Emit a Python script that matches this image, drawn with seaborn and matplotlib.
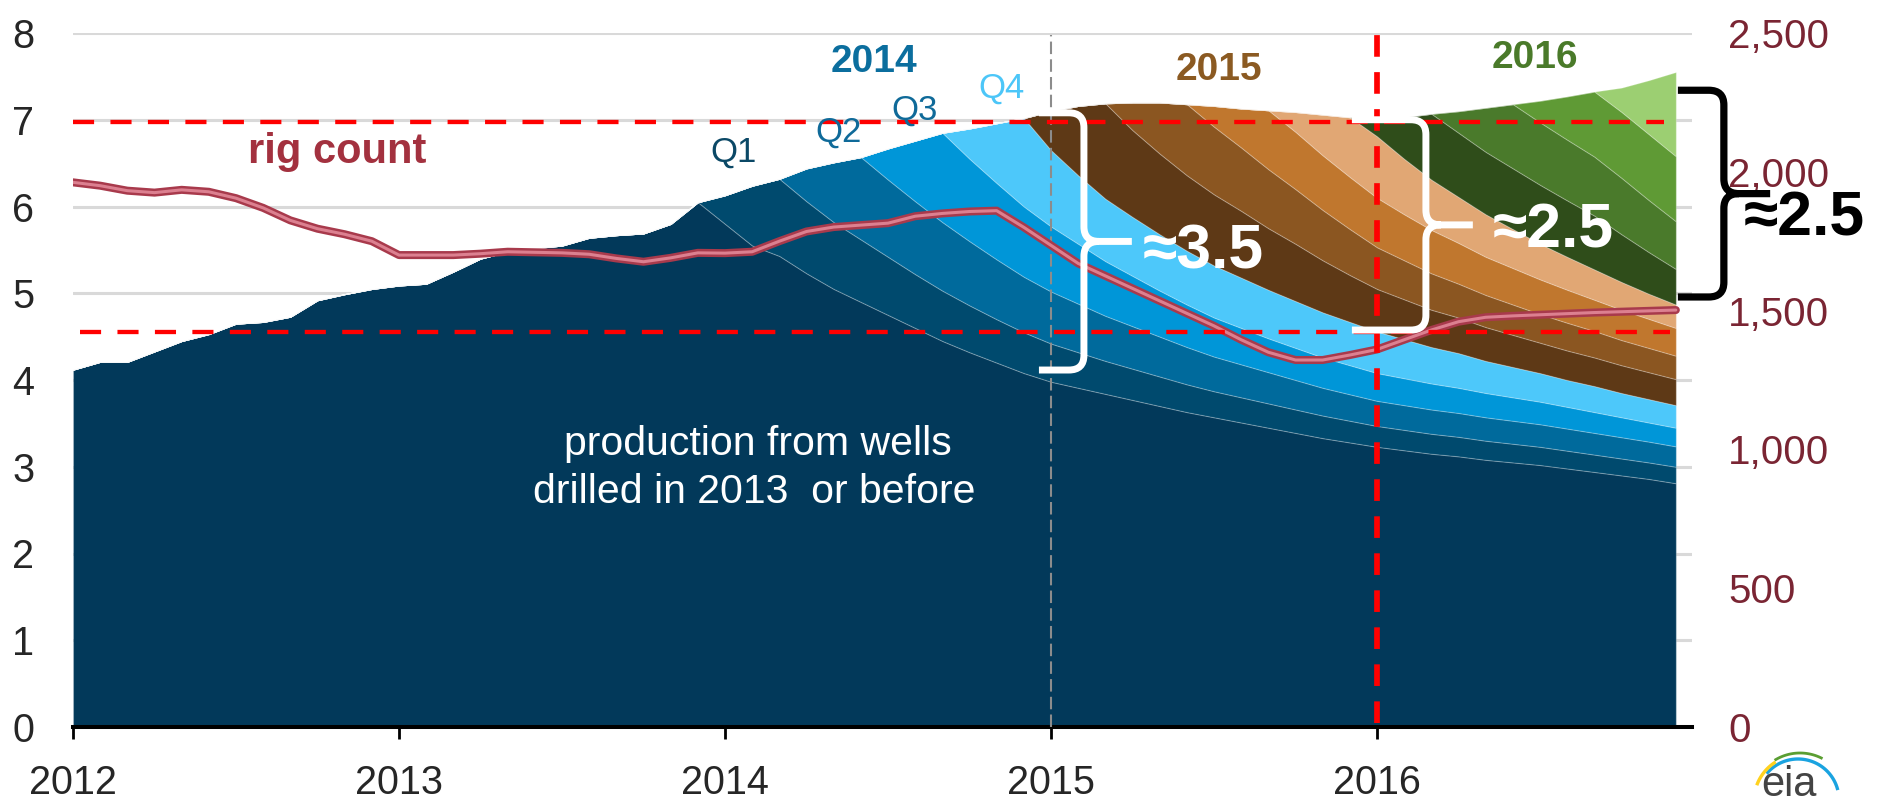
import numpy as np
import pandas as pd
import matplotlib
matplotlib.use("Agg")
import matplotlib.pyplot as plt
import seaborn as sns
from matplotlib.path import Path
from matplotlib.patches import PathPatch

# ---------------- data ----------------
months = pd.date_range("2012-01-01", periods=60, freq="MS")

# production from wells drilled in 2013 or before (million b/d)
base = [4.12, 4.21, 4.21, 4.33, 4.45, 4.53, 4.65, 4.67, 4.73, 4.92, 4.99, 5.05,
        5.09, 5.11, 5.25, 5.40, 5.48, 5.52, 5.55, 5.64, 5.67, 5.69, 5.80, 6.05,
        5.80, 5.55, 5.43, 5.23, 5.05, 4.90, 4.75, 4.60, 4.45, 4.32, 4.20, 4.08,
        3.98, 3.91, 3.84, 3.77, 3.70, 3.63, 3.57, 3.51, 3.45, 3.39, 3.33, 3.28,
        3.23, 3.19, 3.15, 3.12, 3.08, 3.05, 3.02, 2.98, 2.94, 2.90, 2.86, 2.81]

# quarterly well vintages, values from their first producing month
q2014_1 = [0.33, 0.69, 0.89, 0.83, 0.77, 0.72, 0.67, 0.62, 0.58, 0.54, 0.50, 0.47,
           0.44, 0.41, 0.38, 0.36, 0.34, 0.32, 0.30, 0.29, 0.28, 0.27, 0.26, 0.25,
           0.24, 0.235, 0.23, 0.225, 0.22, 0.215, 0.21, 0.205, 0.20, 0.195, 0.19, 0.19]
q2014_2 = [0.38, 0.69, 0.95, 0.89, 0.84, 0.79, 0.74, 0.69, 0.64,
           0.60, 0.56, 0.52, 0.49, 0.46, 0.43, 0.40, 0.38, 0.36, 0.34, 0.32, 0.305,
           0.29, 0.285, 0.28, 0.275, 0.27, 0.265, 0.26, 0.255, 0.25, 0.245, 0.24, 0.235]
q2014_3 = [0.36, 0.70, 1.03, 0.95, 0.88, 0.81,
           0.75, 0.69, 0.63, 0.58, 0.53, 0.49, 0.45, 0.42, 0.39, 0.37, 0.35, 0.335,
           0.32, 0.31, 0.30, 0.29, 0.28, 0.27, 0.26, 0.25, 0.24, 0.23, 0.22, 0.215]
q2014_4 = [0.35, 0.69, 1.02,
           0.88, 0.79, 0.72, 0.68, 0.65, 0.62, 0.60, 0.58, 0.56, 0.54, 0.52, 0.50,
           0.48, 0.45, 0.42, 0.40, 0.37, 0.35, 0.33, 0.31, 0.30, 0.28, 0.27, 0.26]
q2015_1 = [0.45, 0.80, 1.10, 1.00, 0.93, 0.87, 0.82, 0.77, 0.71, 0.66, 0.60, 0.54,
           0.49, 0.46, 0.43, 0.41, 0.39, 0.37, 0.35, 0.34, 0.33, 0.32, 0.31, 0.30]
q2015_2 = [0.32, 0.59, 0.82, 0.78, 0.73, 0.68, 0.63, 0.58, 0.53,
           0.48, 0.45, 0.42, 0.39, 0.37, 0.35, 0.33, 0.32, 0.305, 0.29, 0.28, 0.27]
q2015_3 = [0.24, 0.45, 0.68, 0.66, 0.63, 0.60,
           0.57, 0.53, 0.50, 0.47, 0.44, 0.42, 0.40, 0.38, 0.36, 0.35, 0.335, 0.32]
q2015_4 = [0.23, 0.47, 0.69,
           0.71, 0.64, 0.58, 0.53, 0.49, 0.45, 0.41, 0.38, 0.35, 0.32, 0.29, 0.27]
q2016_1 = [0.20, 0.48, 0.76, 0.74, 0.72, 0.70, 0.68, 0.65, 0.62, 0.55, 0.48, 0.41]
q2016_2 = [0.25, 0.51, 0.74, 0.72, 0.70, 0.68, 0.65, 0.60, 0.55]
q2016_3 = [0.25, 0.50, 0.75, 0.76, 0.76, 0.75]
q2016_4 = [0.28, 0.62, 0.97]

# rig count (right axis)
rig_count = [1962, 1950, 1932, 1925, 1935, 1928, 1905, 1870, 1825, 1795, 1775, 1750,
             1700, 1700, 1700, 1705, 1712, 1710, 1708, 1703, 1688, 1676, 1690, 1708,
             1707, 1712, 1750, 1785, 1801, 1808, 1815, 1840, 1850, 1857, 1860, 1800,
             1735, 1670, 1625, 1580, 1535, 1490, 1445, 1395, 1350, 1322, 1322, 1340,
             1360, 1395, 1430, 1460, 1476, 1481, 1485, 1489, 1493, 1496, 1499, 1502]

layer_colors = ["#02395a",
                "#004a6e", "#006a9c", "#0096d8", "#4dc8fa",
                "#5e3916", "#8b5621", "#c0772e", "#e1a774",
                "#2f4d1a", "#4a7a2b", "#5f9a35", "#9ccf72"]

year_ticks = [2012, 2013, 2014, 2015, 2016]
left_ticks = [0, 1, 2, 3, 4, 5, 6, 7, 8]
right_ticks = [0, 500, 1000, 1500, 2000, 2500]
right_labels = ["0", "500", "1,000", "1,500", "2,000", "2,500"]
quarter_labels = ["Q1", "Q2", "Q3", "Q4"]
quarter_colors = ["#0b4866", "#0f6a99", "#0f6a99", "#4cc6f8"]

# ---------------- style ----------------
sns.set_theme(style="white")
plt.rcParams["font.family"] = ["Liberation Sans", "DejaVu Sans"]

x = np.asarray(months.year + (months.month - 1) / 12.0, dtype=float)


def pad(v):
    v = np.asarray(v, dtype=float)
    return np.concatenate([np.zeros(len(x) - len(v)), v])


vintages = [q2014_1, q2014_2, q2014_3, q2014_4,
            q2015_1, q2015_2, q2015_3, q2015_4,
            q2016_1, q2016_2, q2016_3, q2016_4]
layers = [np.asarray(base, float)] + [pad(v) for v in vintages]

W, H = 1885, 802
fig = plt.figure(figsize=(W / 100, H / 100), dpi=100)
ax = fig.add_axes([73 / W, 1 - 727 / H, (1692 - 73) / W, (727 - 33) / H])

ax.stackplot(x, *layers, colors=layer_colors, edgecolor=(1, 1, 1, 0.22),
             linewidth=0.8, zorder=2)

ax.set_xlim(2012, 2012 + (1692 - 73) / 326)
ax.set_ylim(0, 8)
ax.set_axisbelow(True)
ax.yaxis.grid(True, color="#d9d9d9", lw=2.2)
ax.xaxis.grid(False)
for s in ["left", "right", "top"]:
    ax.spines[s].set_visible(False)
ax.spines["bottom"].set_color("black")
ax.spines["bottom"].set_linewidth(2.9)
ax.set_xticks(year_ticks)
ax.set_xticklabels([str(t) for t in year_ticks])
ax.set_yticks(left_ticks)
ax.set_yticklabels([str(t) for t in left_ticks])
ax.tick_params(axis="x", labelsize=28.5, length=8.6, width=2, pad=18,
               direction="out", color="black", bottom=True)
ax.tick_params(axis="y", labelsize=28.5, length=0, pad=28, left=True)
ax.set_xlabel("")
ax.set_ylabel("")

# ---------------- right axis: rig count ----------------
ax2 = ax.twinx()
rig_df = pd.DataFrame({"x": x, "rigs": rig_count})
sns.lineplot(data=rig_df, x="x", y="rigs", ax=ax2, color="#a83a4c", lw=5.8,
             estimator=None, sort=False, zorder=3)
sns.lineplot(data=rig_df, x="x", y="rigs", ax=ax2, color="#dc8090", lw=2.2,
             estimator=None, sort=False, zorder=3.1)
ax2.set_ylim(0, 2500)
ax2.set_xlim(ax.get_xlim())
ax2.set_yticks(right_ticks)
ax2.set_yticklabels(right_labels)
ax2.tick_params(axis="y", labelsize=29, labelcolor="#7a2533", length=0, pad=26,
                right=True)
ax2.set_xlabel("")
ax2.set_ylabel("")
for s in ax2.spines.values():
    s.set_visible(False)
ax2.grid(False)

T = ax.transData  # annotations drawn in production-axis coordinates

# reference lines
ax2.plot([2012.0, 2016.88], [6.97, 6.97], transform=T, color="#ff0000", lw=3.1,
         linestyle=(0, (4.9, 3.8)), zorder=4, dash_capstyle="butt")
ax2.plot([2012.02, 2016.90], [4.555, 4.555], transform=T, color="#ff0000", lw=3.1,
         linestyle=(0, (4.9, 3.8)), zorder=4, dash_capstyle="butt")
ax2.plot([2016.0, 2016.0], [0.05, 8.03], transform=T, color="#ff0000", lw=4.1,
         linestyle=(0, (3.8, 2.7)), zorder=4, clip_on=False, dash_capstyle="butt")
ax2.plot([2015.0, 2015.0], [0.0, 7.98], transform=T, color="#8c8c8c", lw=1.5,
         linestyle=(0, (6, 2.5)), zorder=2.5, dash_capstyle="butt")


def brace(xa, xs, xm, yt, yb, color, lw, rx=0.046, ry=0.17):
    ym = (yt + yb) / 2
    verts = [(xa, yt), (xs - rx, yt), (xs, yt), (xs, yt - ry), (xs, ym + ry),
             (xs, ym), (xs + rx, ym), (xm, ym),
             (xa, yb), (xs - rx, yb), (xs, yb), (xs, yb + ry), (xs, ym - ry),
             (xs, ym), (xs + rx, ym)]
    codes = [Path.MOVETO, Path.LINETO, Path.CURVE3, Path.CURVE3, Path.LINETO,
             Path.CURVE3, Path.CURVE3, Path.LINETO,
             Path.MOVETO, Path.LINETO, Path.CURVE3, Path.CURVE3, Path.LINETO,
             Path.CURVE3, Path.CURVE3]
    patch = PathPatch(Path(verts, codes), fill=False, edgecolor=color, lw=lw,
                      capstyle="butt", joinstyle="round", transform=T,
                      clip_on=False, zorder=5)
    ax2.add_patch(patch)


brace(2014.963, 2015.101, 2015.248, 7.08, 4.115, "white", 5.0)
brace(2015.923, 2016.150, 2016.294, 7.00, 4.576, "white", 5.0)
brace(2016.923, 2017.064, 2017.206, 7.34, 4.957, "black", 5.2)

# ---------------- text annotations ----------------
ax2.text(2014.457, 7.554, "2014", transform=T, color="#0b6e9e", fontsize=28,
         fontweight="bold", ha="center", va="baseline", zorder=6)
ax2.text(2015.515, 7.458, "2015", transform=T, color="#8b5a22", fontsize=28,
         fontweight="bold", ha="center", va="baseline", zorder=6)
ax2.text(2016.485, 7.593, "2016", transform=T, color="#4a7a2a", fontsize=28,
         fontweight="bold", ha="center", va="baseline", zorder=6)

q_pos = [(2014.025, 6.52), (2014.347, 6.75), (2014.583, 7.005), (2014.847, 7.25)]
for lab, col, (qx, qy) in zip(quarter_labels, quarter_colors, q_pos):
    ax2.text(qx, qy, lab, transform=T, color=col, fontsize=25, ha="center",
             va="baseline", zorder=6)

ax2.text(2012.81, 6.50, "rig count", transform=T, color="#a3313f", fontsize=30,
         fontweight="bold", ha="center", va="baseline", zorder=6)

ax2.text(2014.10, 3.135, "production from wells", transform=T, color="white",
         fontsize=29.5, ha="center", va="baseline", zorder=6)
ax2.text(2014.09, 2.58, "drilled in 2013  or before", transform=T, color="white",
         fontsize=29.5, ha="center", va="baseline", zorder=6)

ax2.text(2015.282, 5.29, "≈3.5", transform=T, color="white", fontsize=45,
         fontweight="bold", ha="left", va="baseline", zorder=6)
ax2.text(2016.356, 5.533, "≈2.5", transform=T, color="white", fontsize=45,
         fontweight="bold", ha="left", va="baseline", zorder=6)
ax2.text(2017.126, 5.67, "≈2.5", transform=T, color="black", fontsize=45,
         fontweight="bold", ha="left", va="baseline", zorder=6, clip_on=False)

# ---------------- eia logo ----------------
lg = fig.add_axes([1740 / W, 0, 110 / W, 60 / H])
lg.set_xlim(1740, 1850)
lg.set_ylim(802, 742)
lg.axis("off")
t = np.linspace(np.radians(14), np.radians(140), 60)
lg.plot(1798 + 41 * np.cos(t), 800 - 41 * np.sin(t), color="#1aa3e0", lw=2.4,
        solid_capstyle="butt")
t = np.linspace(np.radians(62), np.radians(122), 40)
lg.plot(1800 + 48 * np.cos(t), 801 - 48 * np.sin(t), color="#5a9e32", lw=2.0,
        solid_capstyle="butt")
t = np.linspace(np.radians(122), np.radians(160), 30)
lg.plot(1800 + 46 * np.cos(t), 801 - 46 * np.sin(t), color="#ffd21f", lw=2.4,
        solid_capstyle="butt")
fig.text(1789 / W, 0.008, "eia", color="#444444", fontsize=30, ha="center",
         va="baseline")

fig.savefig("out.png", dpi=100)
